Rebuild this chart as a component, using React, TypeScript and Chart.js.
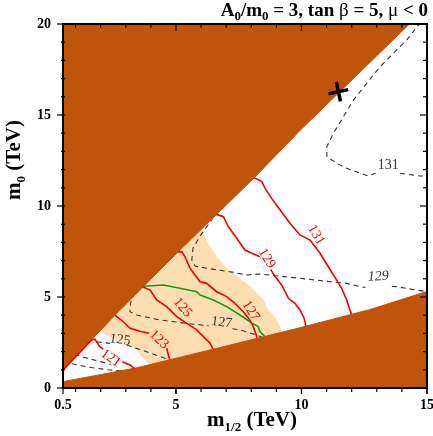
import React, { useEffect, useRef } from "react";
import { Chart, registerables } from "chart.js";
Chart.register(...registerables);

type P = [number, number] | null;

// ---------- axes ----------
const xMin = 0.5, xMax = 15, yMin = 0, yMax = 20;
const xMajorTicks = [0.5, 5, 10, 15];
const xTickLabels = ["0.5", "5", "10", "15"];
const xMinorTicks = [1, 2, 3, 4, 5, 6, 7, 8, 9, 10, 11, 12, 13, 14, 15];
const yMajorTicks = [0, 5, 10, 15, 20];
const yTickLabels = ["0", "5", "10", "15", "20"];
const yMinorTicks = [1, 2, 3, 4, 5, 6, 7, 8, 9, 10, 11, 12, 13, 14, 15, 16, 17, 18, 19, 20];

// ---------- regions ----------
const upperExcluded: P[] = [[0.5, 1.0], [2.57, 4.0], [5.03, 7.4], [8.08, 11.5], [9.94, 14.15], [14.3, 20], [0.5, 20], [0.5, 1.0]];
const lowerExcluded: P[] = [[0.5, 0.35], [3.4, 1.1], [6.4, 2.1], [9.9, 3.3], [12.7, 4.3], [15, 5.3], [15, 0], [0.5, 0], [0.5, 0.35]];
const peachRegion: P[] = [[1.6, 3.6], [2.0, 3.1], [2.37, 2.82], [3.04, 2.46], [3.44, 2.09], [3.83, 1.45], [4.03, 1.26], [4.1, 0.9], [9.3, 2.6], [9.21, 3.09], [9.01, 3.74], [8.62, 4.38], [8.48, 4.84], [7.95, 5.57], [7.15, 6.39], [6.82, 6.85], [6.29, 7.86], [6.09, 8.41], [5.9, 9.2], [1.6, 3.6]];

// ---------- Higgs mass contours (solid red) ----------
const red121: P[] = [[0.51, 0.99], [1.64, 2.64], [1.77, 2.68], [1.97, 2.27], [2.24, 1.99], [2.64, 1.72], [2.84, 1.45], [3.17, 1.26], [3.37, 1.05]];
const red123: P[] = [[2.57, 4.01], [2.9, 3.64], [3.17, 3.28], [3.6, 3.1], [3.97, 3.0], [4.3, 2.6], [4.63, 2.18], [4.7, 1.8], [4.78, 1.45], [4.85, 1.25]];
const red125: P[] = [[3.6, 5.6], [3.97, 5.38], [4.23, 4.84], [4.63, 4.47], [5.03, 3.92], [5.43, 3.55], [5.83, 3.19], [6.09, 2.82], [6.36, 2.46], [6.49, 2.09], [6.52, 1.9]];
const red127: P[] = [[5.0, 7.45], [5.23, 7.49], [5.36, 7.21], [5.56, 6.58], [5.96, 5.84], [6.22, 5.75], [6.62, 5.29], [7.02, 5.02], [7.35, 4.65], [7.68, 4.19], [7.95, 3.74], [8.08, 3.37], [8.22, 2.82], [8.26, 2.5]];
const red129: P[] = [[6.4, 9.45], [6.62, 9.54], [6.89, 9.41], [7.09, 8.86], [7.42, 8.23], [7.75, 7.58], [8.02, 7.4], [8.35, 7.21], [8.62, 6.85], [8.95, 6.12], [9.21, 5.66], [9.48, 4.93], [9.74, 4.65], [9.94, 4.29], [10.1, 3.85], [10.2, 3.25]];
const red131: P[] = [[8.05, 11.6], [8.42, 11.34], [8.55, 10.97], [8.81, 10.42], [9.15, 9.78], [9.54, 9.05], [9.94, 8.41], [10.34, 8.13], [10.74, 7.4], [11.07, 6.66], [11.4, 5.93], [11.6, 5.48], [11.8, 4.84], [11.93, 4.29], [12.02, 3.95]];

// ---------- green contour ----------
const greenLine: P[] = [[3.6, 5.58], [4.5, 5.66], [5.16, 5.48], [5.83, 5.29], [5.96, 5.11], [6.49, 4.84], [7.02, 4.47], [7.55, 4.01], [7.95, 3.64], [8.28, 3.37], [8.35, 3.09], [8.55, 2.82], [8.62, 2.6]];

// ---------- dashed contours ----------
const dashA: P[] = [[0.95, 1.85], [1.5, 1.62], [2.0, 1.45], [2.55, 1.24]];
const dashB: P[] = [[0.85, 1.33], [1.5, 1.15], [2.3, 1.0], [3.17, 0.9]];
const dash125: P[] = [[1.84, 2.54], [2.37, 2.45], null, [3.04, 2.36], [3.83, 1.99], [4.76, 1.54], [4.9, 1.45]];
const dash127: P[] = [[3.55, 5.65], [3.25, 5.05], [3.17, 4.47], [3.17, 4.19], [3.44, 4.01], [4.36, 3.74], [5.43, 3.55], [6.3, 3.42], null, [7.25, 3.26], [7.55, 3.19], [8.22, 2.91], [8.5, 2.75]];
const dash129: P[] = [[6.9, 10.2], [6.36, 9.12], [5.96, 8.35], [5.68, 7.69], [5.63, 7.03], [5.76, 6.7], [6.22, 6.58], [7.15, 6.39], [7.82, 6.21], [8.35, 6.26], [9.28, 6.12], [9.94, 6.03], [11.14, 5.84], [11.8, 5.75], [12.33, 5.57], [12.55, 5.52], null, [13.6, 5.58], [13.79, 5.57], [14.59, 5.38], [15, 5.29]];
const dash131: P[] = [[14.75, 20.1], [14.19, 19.12], [13.66, 18.39], [13.13, 17.65], [12.6, 16.74], [12.07, 15.82], [11.67, 14.91], [11.27, 13.99], [11.01, 13.26], [11.01, 12.71], [11.4, 12.35], [11.8, 12.07], [12.66, 11.65], [12.95, 11.8], null, [13.93, 11.8], [14.72, 11.65], [15, 11.65]];

// ---------- best-fit marker ----------
const markerPoint: P[] = [[11.47, 16.28]];

// ---------- contour labels ----------
const RED = "#f00000";
const GREY = "#333333";
const PEACH = "#fddeb1";
const WEDGE = "#c0540a";
const contourLabels = [
  { text: "121", x: 2.4, y: 1.63, angle: 35, color: RED, bg: "#ffffff", italic: false },
  { text: "123", x: 4.32, y: 2.66, angle: 42, color: RED, bg: PEACH, italic: false },
  { text: "125", x: 5.26, y: 4.42, angle: 50, color: RED, bg: PEACH, italic: false },
  { text: "127", x: 7.98, y: 4.24, angle: 57, color: RED, bg: PEACH, italic: false },
  { text: "129", x: 8.62, y: 7.12, angle: 58, color: RED, bg: "#ffffff", italic: false },
  { text: "131", x: 10.58, y: 8.41, angle: 60, color: RED, bg: "#ffffff", italic: false },
  { text: "125", x: 2.77, y: 2.64, angle: 8, color: GREY, bg: null, italic: false },
  { text: "127", x: 6.82, y: 3.6, angle: 8, color: GREY, bg: null, italic: false },
  { text: "129", x: 13.06, y: 6.12, angle: -3, color: GREY, bg: null, italic: true },
  { text: "131", x: 13.46, y: 12.25, angle: 0, color: GREY, bg: null, italic: false },
];

const SERIF = '"Liberation Serif", "DejaVu Serif", serif';

type Part = { t: string; size: number; dy: number; bold: boolean };

function richWidth(ctx: CanvasRenderingContext2D, parts: Part[]) {
  let w = 0;
  for (const p of parts) {
    ctx.font = `${p.bold ? "bold " : ""}${p.size}px ${SERIF}`;
    w += ctx.measureText(p.t).width;
  }
  return w;
}
function drawRich(ctx: CanvasRenderingContext2D, parts: Part[], x: number, y: number) {
  let cx = x;
  ctx.textBaseline = "alphabetic";
  ctx.textAlign = "left";
  for (const p of parts) {
    ctx.font = `${p.bold ? "bold " : ""}${p.size}px ${SERIF}`;
    ctx.fillText(p.t, cx, y + p.dy);
    cx += ctx.measureText(p.t).width;
  }
}

const toXY = (arr: P[]) => arr.map((p) => (p ? { x: p[0], y: p[1] } : { x: null, y: null }));

const overlayPlugin = {
  id: "overlay",
  afterDatasetsDraw(chart: any) {
    const ctx: CanvasRenderingContext2D = chart.ctx;
    const xs = chart.scales.x, ys = chart.scales.y;
    const a = chart.chartArea;
    ctx.save();
    ctx.beginPath();
    ctx.rect(a.left, a.top, a.right - a.left, a.bottom - a.top);
    ctx.clip();
    for (const l of contourLabels) {
      const px = xs.getPixelForValue(l.x), py = ys.getPixelForValue(l.y);
      ctx.save();
      ctx.translate(px, py);
      ctx.rotate((l.angle * Math.PI) / 180);
      ctx.font = `${l.italic ? "italic " : ""}14px ${SERIF}`;
      const w = ctx.measureText(l.text).width;
      if (l.bg) {
        ctx.fillStyle = l.bg;
        ctx.fillRect(-w / 2 - 1, -5, w + 2, 10);
      }
      ctx.fillStyle = l.color;
      ctx.textAlign = "center";
      ctx.textBaseline = "middle";
      ctx.fillText(l.text, 0, 0);
      ctx.restore();
    }
    ctx.restore();
  },
  afterDraw(chart: any) {
    const ctx: CanvasRenderingContext2D = chart.ctx;
    const xs = chart.scales.x, ys = chart.scales.y;
    const a = chart.chartArea;
    ctx.save();
    ctx.strokeStyle = "#000";
    ctx.fillStyle = "#000";
    // ticks
    ctx.lineWidth = 1.2;
    const seg = (x1: number, y1: number, x2: number, y2: number) => {
      ctx.beginPath();
      ctx.moveTo(x1, y1);
      ctx.lineTo(x2, y2);
      ctx.stroke();
    };
    for (const v of xMinorTicks) {
      const px = xs.getPixelForValue(v);
      const major = xMajorTicks.includes(v);
      seg(px, a.bottom, px, a.bottom + (major ? 6 : 4));
      seg(px, a.top, px, a.top + (major ? 7 : 4));
    }
    for (const v of xMajorTicks) {
      const px = xs.getPixelForValue(v);
      seg(px, a.bottom, px, a.bottom + 6);
    }
    for (const v of yMinorTicks.concat([0])) {
      const py = ys.getPixelForValue(v);
      const major = yMajorTicks.includes(v);
      seg(a.left - (major ? 6 : 2), py, a.left + 2, py);
      seg(a.right, py, a.right - (major ? 7 : 4), py);
    }
    // frame
    ctx.lineWidth = 2;
    ctx.strokeRect(a.left, a.top, a.right - a.left, a.bottom - a.top);
    // tick labels
    ctx.font = `bold 14px ${SERIF}`;
    ctx.textAlign = "center";
    ctx.textBaseline = "middle";
    xMajorTicks.forEach((v, i) => {
      ctx.fillText(xTickLabels[i], xs.getPixelForValue(v), a.bottom + 17);
    });
    ctx.textAlign = "right";
    yMajorTicks.forEach((v, i) => {
      ctx.fillText(yTickLabels[i], a.left - 12, ys.getPixelForValue(v));
    });
    // x title
    const xt: Part[] = [
      { t: "m", size: 21, dy: 0, bold: true },
      { t: "1/2", size: 13, dy: 5, bold: true },
      { t: " (TeV)", size: 21, dy: 0, bold: true },
    ];
    const xw = richWidth(ctx, xt);
    drawRich(ctx, xt, 252 - xw / 2, 426);
    // y title
    const yt: Part[] = [
      { t: "m", size: 21, dy: 0, bold: true },
      { t: "0", size: 13, dy: 5, bold: true },
      { t: " (TeV)", size: 21, dy: 0, bold: true },
    ];
    const yw = richWidth(ctx, yt);
    ctx.save();
    ctx.translate(20, 160);
    ctx.rotate(-Math.PI / 2);
    drawRich(ctx, yt, -yw / 2, 0);
    ctx.restore();
    // title
    const tt: Part[] = [
      { t: "A", size: 19, dy: 0, bold: true },
      { t: "0", size: 13, dy: 4, bold: true },
      { t: "/m", size: 19, dy: 0, bold: true },
      { t: "0", size: 13, dy: 4, bold: true },
      { t: " = 3, tan ", size: 19, dy: 0, bold: true },
      { t: "β", size: 19, dy: 0, bold: false },
      { t: " = 5, ", size: 19, dy: 0, bold: true },
      { t: "μ", size: 19, dy: 0, bold: false },
      { t: " < 0", size: 19, dy: 0, bold: true },
    ];
    const tw = richWidth(ctx, tt);
    drawRich(ctx, tt, 428 - tw, 16);
    ctx.restore();
  },
};

export default function App() {
  const ref = useRef<HTMLCanvasElement | null>(null);
  useEffect(() => {
    if (!ref.current) return;
    const lineDs = (data: P[], color: string, width: number, order: number, dash: number[] = []) => ({
      data: toXY(data),
      borderColor: color,
      borderWidth: width,
      borderDash: dash,
      fill: false,
      pointRadius: 0,
      spanGaps: false,
      order,
    });
    const areaDs = (data: P[], color: string, order: number) => ({
      data: toXY(data),
      borderColor: color,
      backgroundColor: color,
      borderWidth: 1,
      fill: "shape",
      pointRadius: 0,
      order,
    });
    const chart = new Chart(ref.current, {
      type: "line",
      data: {
        datasets: [
          areaDs(peachRegion, PEACH, 10),
          lineDs(dashA, GREY, 1.1, 5, [5, 4]),
          lineDs(dashB, GREY, 1.1, 5, [5, 4]),
          lineDs(dash125, GREY, 1.1, 5, [5, 4]),
          lineDs(dash127, GREY, 1.1, 5, [5, 4]),
          lineDs(dash129, GREY, 1.1, 5, [5, 4]),
          lineDs(dash131, GREY, 1.1, 5, [5, 4]),
          lineDs(red123, RED, 1.6, 4),
          lineDs(red125, RED, 1.6, 4),
          lineDs(red127, RED, 1.6, 4),
          lineDs(red129, RED, 1.6, 4),
          lineDs(red131, RED, 1.6, 4),
          lineDs(greenLine, "#109a10", 1.6, 4),
          areaDs(upperExcluded, WEDGE, 3),
          areaDs(lowerExcluded, WEDGE, 3),
          lineDs(red121, RED, 1.6, 2),
          {
            data: toXY(markerPoint),
            showLine: false,
            pointStyle: "cross",
            pointRadius: 10,
            pointBorderWidth: 3.5,
            pointBorderColor: "#000",
            pointRotation: -12,
            order: 0,
          } as any,
        ] as any,
      },
      options: {
        responsive: false,
        animation: false,
        events: [],
        layout: { autoPadding: false, padding: { left: 63, right: 6, top: 24, bottom: 48 } },
        scales: {
          x: { type: "linear", min: xMin, max: xMax, display: false },
          y: { type: "linear", min: yMin, max: yMax, display: false },
        },
        elements: { line: { tension: 0 }, point: { radius: 0 } },
        plugins: { legend: { display: false }, tooltip: { enabled: false }, title: { display: false } },
      } as any,
      plugins: [overlayPlugin],
    });
    return () => chart.destroy();
  }, []);
  return (
    <div style={{ position: "absolute", left: 0, top: 0, width: 433, height: 436, background: "#fff" }}>
      <canvas ref={ref} width={433} height={436} style={{ display: "block" }} />
    </div>
  );
}
